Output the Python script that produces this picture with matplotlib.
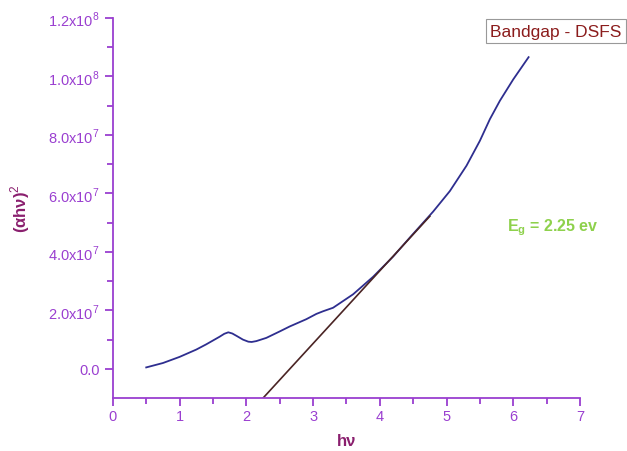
import numpy as np
import matplotlib.pyplot as plt
from matplotlib.ticker import MultipleLocator, FixedLocator

plt.rcParams['font.family'] = ['Liberation Sans', 'DejaVu Sans']
plt.rcParams['mathtext.fontset'] = 'custom'
plt.rcParams['mathtext.rm'] = 'Liberation Sans'
plt.rcParams['mathtext.bf'] = 'Liberation Sans:bold'

# photon energy (eV) and (alpha h nu)^2 in units of 1e7
hv = [0.5, 0.75, 1.0, 1.25, 1.4, 1.5, 1.6, 1.67, 1.73, 1.79, 1.86, 1.95,
      2.03, 2.08, 2.15, 2.3, 2.5, 2.65, 2.9, 3.05, 3.15, 3.3, 3.6, 3.9,
      4.2, 4.45, 4.8, 5.05, 5.3, 5.5, 5.65, 5.8, 6.0, 6.23]
ahv2 = [0.05, 0.2, 0.41, 0.66, 0.84, 0.97, 1.1, 1.2, 1.25, 1.21, 1.12, 1.0,
        0.93, 0.92, 0.95, 1.06, 1.28, 1.45, 1.7, 1.88, 1.97, 2.09, 2.55, 3.15,
        3.84, 4.49, 5.38, 6.08, 6.95, 7.8, 8.54, 9.17, 9.9, 10.66]

# linear fit drawn over the absorption edge
fit_x = [2.25, 4.75]
fit_y = [-1.0, 5.22]

yticks = [0, 2, 4, 6, 8, 10, 12]
ytick_labels = ['0.0', r'2.0x10$^{7}$', r'4.0x10$^{7}$', r'6.0x10$^{7}$',
                r'8.0x10$^{7}$', r'1.0x10$^{8}$', r'1.2x10$^{8}$']

axis_color = '#9a3fd0'
label_color = '#8a1f6e'

fig = plt.figure(figsize=(6.27, 4.52), dpi=100)
ax = fig.add_axes([0.180, 0.117, 0.745, 0.841])

ax.plot(hv, ahv2, color='#2e2e8f', lw=1.3)
ax.plot(fit_x, fit_y, color='#4a2424', lw=1.2)

ax.set_xlim(0, 7)
ax.set_ylim(-1, 12)
ax.xaxis.set_major_locator(MultipleLocator(1))
ax.xaxis.set_minor_locator(MultipleLocator(0.5))
ax.yaxis.set_major_locator(FixedLocator(yticks))
ax.yaxis.set_minor_locator(FixedLocator([1, 3, 5, 7, 9, 11]))
ax.set_yticklabels(ytick_labels)

for s in ['top', 'right']:
    ax.spines[s].set_visible(False)
for s in ['left', 'bottom']:
    ax.spines[s].set_color(axis_color)
    ax.spines[s].set_linewidth(1.3)

ax.tick_params(which='both', direction='out', colors=axis_color,
               labelsize=10.5, width=1.3)
ax.tick_params(which='major', length=6)
ax.tick_params(which='minor', length=4)
ax.tick_params(axis='x', pad=2)

ax.set_xlabel('hν', fontsize=12, fontweight='bold', color=label_color,
              labelpad=7)
ax.set_ylabel('(αhν)$^2$', fontsize=12, fontweight='bold',
              color=label_color, labelpad=12)

fig.text(0.782, 0.929, 'Bandgap - DSFS', fontsize=12.5, color='#8b1c1c',
         va='center', ha='left',
         bbox=dict(boxstyle='square,pad=0.25', fc='white', ec='#999999', lw=0.8))

ax.text(6.6, 4.87, r'E$_\mathbf{g}$ = 2.25 ev', fontsize=11.5, fontweight='bold',
        color='#8ed14c', ha='center', va='center')

fig.savefig('out.png', dpi=100)
